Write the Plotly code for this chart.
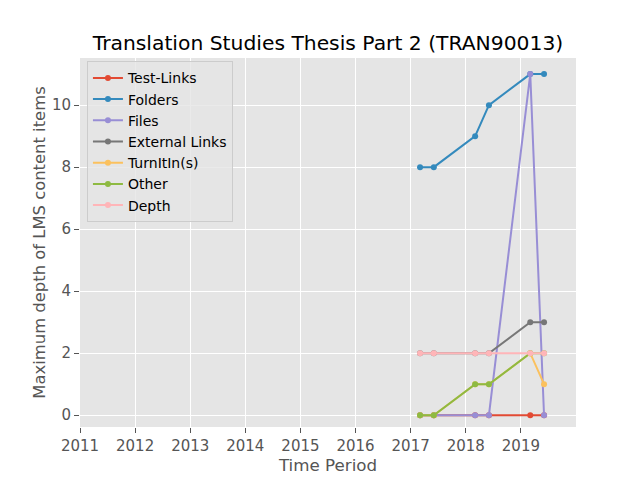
import plotly.graph_objects as go

periods = [2017.17, 2017.42, 2018.17, 2018.42, 2019.17, 2019.42]
series_names = ["Test-Links", "Folders", "Files", "External Links", "TurnItIn(s)", "Other", "Depth"]
test_links = [0, 0, 0, 0, 0, 0]
folders = [8, 8, 9, 10, 11, 11]
files = [0, 0, 0, 0, 11, 0]
external_links = [2, 2, 2, 2, 3, 3]
turnitin = [0, 0, 1, 1, 2, 1]
other = [0, 0, 1, 1, 2, 2]
depth = [2, 2, 2, 2, 2, 2]
year_ticks = [2011, 2012, 2013, 2014, 2015, 2016, 2017, 2018, 2019]
y_ticks = [0, 2, 4, 6, 8, 10]

colors = ["#E24A33", "#348ABD", "#988ED5", "#777777", "#FBC15E", "#8EBA42", "#FFB5B8"]
all_series = [test_links, folders, files, external_links, turnitin, other, depth]

fig = go.Figure()
for name, vals, col in zip(series_names, all_series, colors):
    fig.add_trace(go.Scatter(
        x=periods, y=vals, name=name, mode="lines+markers",
        line=dict(color=col, width=2), marker=dict(color=col, size=6),
    ))

# page body has an 8px default margin; compensate in the figure margins
off = 8
font_family = "DejaVu Sans"
fig.update_layout(
    width=640 - off, height=480 - off,
    margin=dict(l=80 - off, r=64, t=57.6 - off, b=52.8, autoexpand=False),
    paper_bgcolor="white", plot_bgcolor="#E5E5E5",
    font=dict(family=font_family, color="#555555", size=14),
    title=dict(text="Translation Studies Thesis Part 2 (TRAN90013)",
               x=(328 - off) / (640 - off), xanchor="center", y=1 - (43 - off) / (480 - off), yanchor="middle",
               font=dict(size=20.3, color="black")),
    legend=dict(x=0.014, y=0.991, xanchor="left", yanchor="top",
                bgcolor="rgba(229,229,229,0.8)", bordercolor="#CCCCCC", borderwidth=1,
                font=dict(size=14, color="black"), itemwidth=30, tracegroupgap=0),
    showlegend=True,
)
fig.update_xaxes(range=[2011, 2020], tickvals=year_ticks, ticktext=[str(t) for t in year_ticks],
                 showgrid=True, gridcolor="white", gridwidth=1, zeroline=False, automargin=False,
                 ticks="outside", ticklen=5, tickcolor="#555555",
                 tickfont=dict(size=15, color="#555555"),
                 title=dict(text="Time Period", font=dict(size=16.7, color="#555555"), standoff=3))
fig.update_yaxes(range=[-0.38, 11.52], tickvals=y_ticks,
                 showgrid=True, gridcolor="white", gridwidth=1, zeroline=False, automargin=False,
                 ticks="outside", ticklen=5, tickcolor="#555555",
                 tickfont=dict(size=15, color="#555555"),
                 title=dict(text="Maximum depth of LMS content items", font=dict(size=16.4, color="#555555"), standoff=2))

fig.write_html("out.html")
